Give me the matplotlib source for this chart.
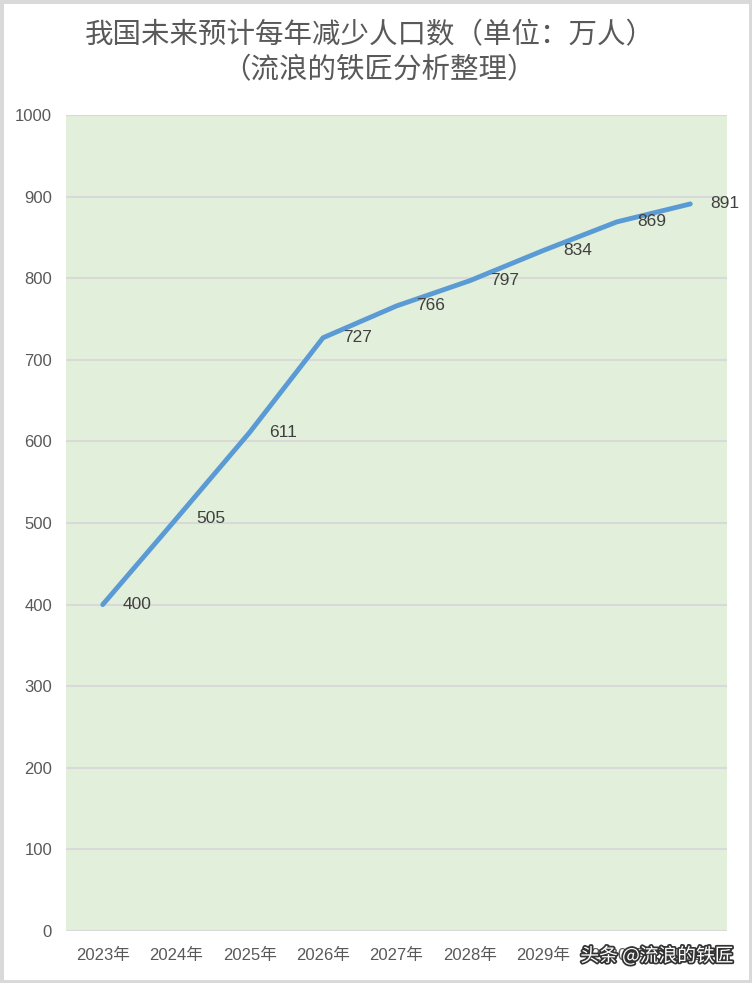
import matplotlib
matplotlib.use("Agg")
import matplotlib.pyplot as plt
import matplotlib.patheffects as pe
from matplotlib.patches import Rectangle

plt.rcParams['font.family'] = ['Liberation Sans', 'Noto Sans CJK SC', 'DejaVu Sans']

years = ["2023年", "2024年", "2025年", "2026年", "2027年", "2028年", "2029年", "2030年", "2031年"]
values = [400, 505, 611, 727, 766, 797, 834, 869, 891]
yticks = [0, 100, 200, 300, 400, 500, 600, 700, 800, 900, 1000]
title1 = "我国未来预计每年减少人口数（单位：万人）"
title2 = "（流浪的铁匠分析整理）"

W, H = 752, 983
fig = plt.figure(figsize=(W/100, H/100), dpi=100)
fig.patch.set_facecolor("white")
fig.patches.append(Rectangle((0, 0), 1, 1, transform=fig.transFigure, fill=False,
                             edgecolor="#D9D9D9", linewidth=5))

ax = fig.add_axes([66/W, 1-931/H, (727-66)/W, (931-115)/H])
ax.set_facecolor("#E2EFDA")
x = list(range(len(years)))
ax.plot(x, values, color="#5B9BD5", linewidth=3.5, solid_capstyle="round", zorder=3)
for xi, v in zip(x, values):
    ax.annotate(str(v), (xi, v), xytext=(20, 0), textcoords="offset pixels",
                ha="left", va="center", fontsize=12.5, color="#404040", zorder=4)

ax.set_xlim(-0.5, len(years)-0.5)
ax.set_ylim(0, 1000)
ax.set_yticks(yticks)
ax.set_xticks(x)
ax.set_xticklabels(years, family=['Liberation Sans Narrow', 'Liberation Sans', 'Noto Sans CJK SC'])
ax.tick_params(axis='both', length=0, colors="#595959", labelsize=12)
ax.tick_params(axis='x', pad=12)
ax.tick_params(axis='y', pad=10)
ax.grid(axis='y', color="#D9D9D9", linewidth=1.5)
ax.set_axisbelow(True)
for s in ax.spines.values():
    s.set_visible(False)

fig.text(370/W, 1-35/H, title1, ha="center", va="center", fontsize=20.5,
         color="#595959", family=['Noto Sans CJK SC'])
fig.text(379/W, 1-70/H, title2, ha="center", va="center", fontsize=20.5,
         color="#595959", family=['Noto Sans CJK SC'])

fig.text(657/W, 1-956/H, "头条 @流浪的铁匠", ha="center", va="center", fontsize=13.5,
         color="white", family=['Noto Sans CJK SC'], zorder=10,
         path_effects=[pe.withStroke(linewidth=2.5, foreground="#333333")])

fig.savefig("out.png", dpi=100)
